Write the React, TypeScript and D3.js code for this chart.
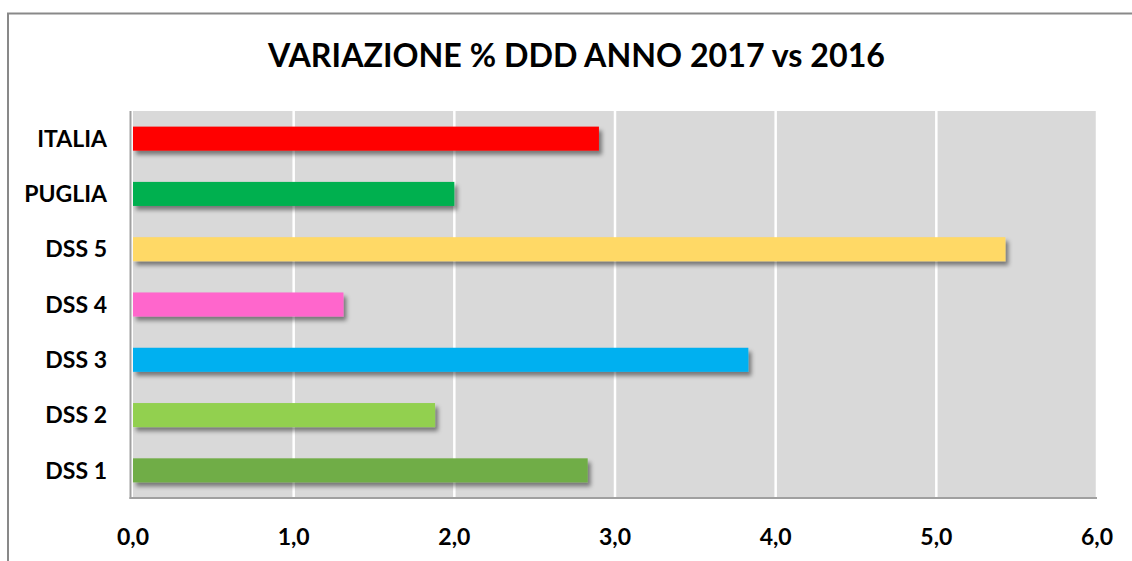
import React from "react";
import * as d3 from "d3";

const categories = ["ITALIA", "PUGLIA", "DSS 5", "DSS 4", "DSS 3", "DSS 2", "DSS 1"];
const values = [2.9, 2.0, 5.43, 1.31, 3.83, 1.88, 2.83];
const colors = ["#FF0000", "#00B050", "#FFD966", "#FF66CC", "#00B0F0", "#92D050", "#70AD47"];
const ticks = [0, 1, 2, 3, 4, 5, 6];
const title = "VARIAZIONE % DDD ANNO 2017 vs 2016";

const W = 1132;
const H = 561;
const plotLeft = 133;
const plotRight = 1097;
const plotTop = 111;
const plotBottom = 498;
const font = "Lato, 'Open Sans', sans-serif";

export default function App() {
  const x = d3.scaleLinear().domain([0, 6]).range([plotLeft, plotRight]);
  const y = d3
    .scaleBand<string>()
    .domain(categories)
    .range([plotTop, plotBottom])
    .paddingInner(0.565)
    .paddingOuter(0.2825);
  const fmt = (v: number) => d3.format(".1f")(v).replace(".", ",");

  return (
    <svg
      width={W}
      height={H}
      style={{ position: "absolute", left: 0, top: 0, background: "#fff" }}
    >
      <defs>
        <filter id="sh" x="-5%" y="-50%" width="115%" height="220%">
          <feDropShadow dx="3" dy="4" stdDeviation="2.2" floodColor="#000" floodOpacity="0.45" />
        </filter>
      </defs>
      <rect x={8} y={13.5} width={W + 20} height={H + 20} fill="#fff" stroke="#898989" strokeWidth={2} />
      <text
        x={576.5}
        y={67}
        textAnchor="middle"
        fontFamily={font}
        fontWeight="bold"
        fontSize={32}
        textLength={617}
        lengthAdjust="spacingAndGlyphs"
        fill="#000"
      >
        {title}
      </text>
      <rect x={plotLeft} y={plotTop} width={plotRight - plotLeft} height={plotBottom - plotTop} fill="#D9D9D9" />
      {ticks.slice(1).map((t) => (
        <line key={t} x1={x(t)} x2={x(t)} y1={plotTop} y2={plotBottom} stroke="#fff" strokeWidth={2.5} />
      ))}
      {categories.map((c, i) => (
        <rect
          key={c}
          x={x(0)}
          y={y(c)}
          width={x(values[i]) - x(0)}
          height={y.bandwidth()}
          fill={colors[i]}
          filter="url(#sh)"
        />
      ))}
      <line x1={130.5} x2={130.5} y1={plotTop} y2={plotBottom + 1} stroke="#A0A0A0" strokeWidth={2} />
      <line x1={129.5} x2={plotRight} y1={plotBottom} y2={plotBottom} stroke="#A0A0A0" strokeWidth={2} />
      {categories.map((c) => (
        <text
          key={c}
          x={107}
          y={(y(c) as number) + y.bandwidth() / 2}
          dy="0.36em"
          textAnchor="end"
          fontFamily={font}
          fontWeight="bold"
          fontSize={23}
          fill="#000"
        >
          {c}
        </text>
      ))}
      {ticks.map((t) => (
        <text
          key={t}
          x={x(t)}
          y={545}
          textAnchor="middle"
          fontFamily={font}
          fontWeight="bold"
          fontSize={23}
          fill="#000"
        >
          {fmt(t)}
        </text>
      ))}
    </svg>
  );
}
